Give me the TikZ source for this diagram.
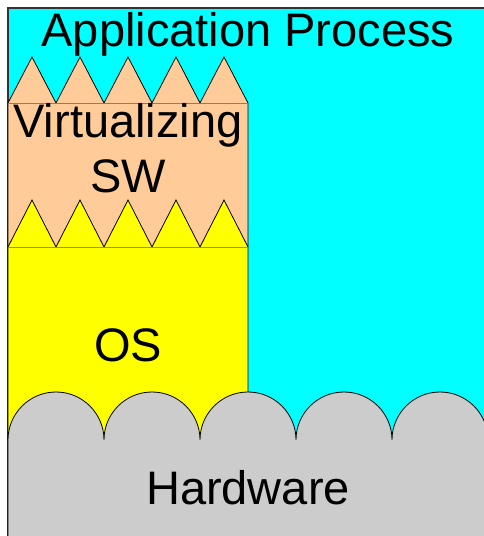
\documentclass[tikz,border=0pt]{standalone}
\usepackage{fontspec}
\setmainfont{Liberation Sans}
\usetikzlibrary{positioning}
\definecolor{appcyan}{HTML}{00FFFF}
\definecolor{virtpeach}{HTML}{FFCC99}
\definecolor{osyellow}{HTML}{FFFF00}
\definecolor{hwgrey}{HTML}{CCCCCC}
\tikzset{
  layerlabel/.style={font=\fontsize{47}{55}\selectfont,inner sep=0pt,align=center,anchor=base},
  layeredge/.style={draw=black,line width=0.8pt,line join=miter}
}

\begin{document}
\begin{tikzpicture}[x=1pt,y=1pt]
  \useasboundingbox (0,0) rectangle (484,536);
  % Application process (background)
  \fill[appcyan] (8,-5) rectangle (495,528);
  \draw[black!80,line width=1.6pt] (8,-5) -- (8,528) -- (495,528);
  % Virtualizing SW, saw-tooth top
  \filldraw[layeredge,fill=virtpeach] (8,289) -- (8,433)
    \foreach \i in {1,...,5} { -- ++(24,46) -- ++(24,-46) } -- (248,289);
  \draw[virtpeach!60!black,line width=0.5pt] (8,433) -- (248,433);
  % OS, saw-tooth top
  \filldraw[layeredge,fill=osyellow] (8,96) -- (8,289)
    \foreach \i in {1,...,5} { -- ++(24,47) -- ++(24,-47) } -- (248,96);
  \draw[osyellow!60!black,line width=0.5pt] (8,289) -- (248,289);
  % Hardware, rounded bumps on top
  \filldraw[layeredge,fill=hwgrey] (8,-5) -- (8,96)
    \foreach \i in {1,...,5} { arc[start angle=180,end angle=0,radius=48] } -- (488,-5);
  % Labels
  \node[layerlabel] (app) at (248,489) {Application Process};
  \node[layerlabel] (virt) at (128,343) {Virtualizing\\SW};
  \node[layerlabel] (os) at (128,174) {OS};
  \node[layerlabel] (hw) at (248,31) {Hardware};
\end{tikzpicture}
\end{document}
